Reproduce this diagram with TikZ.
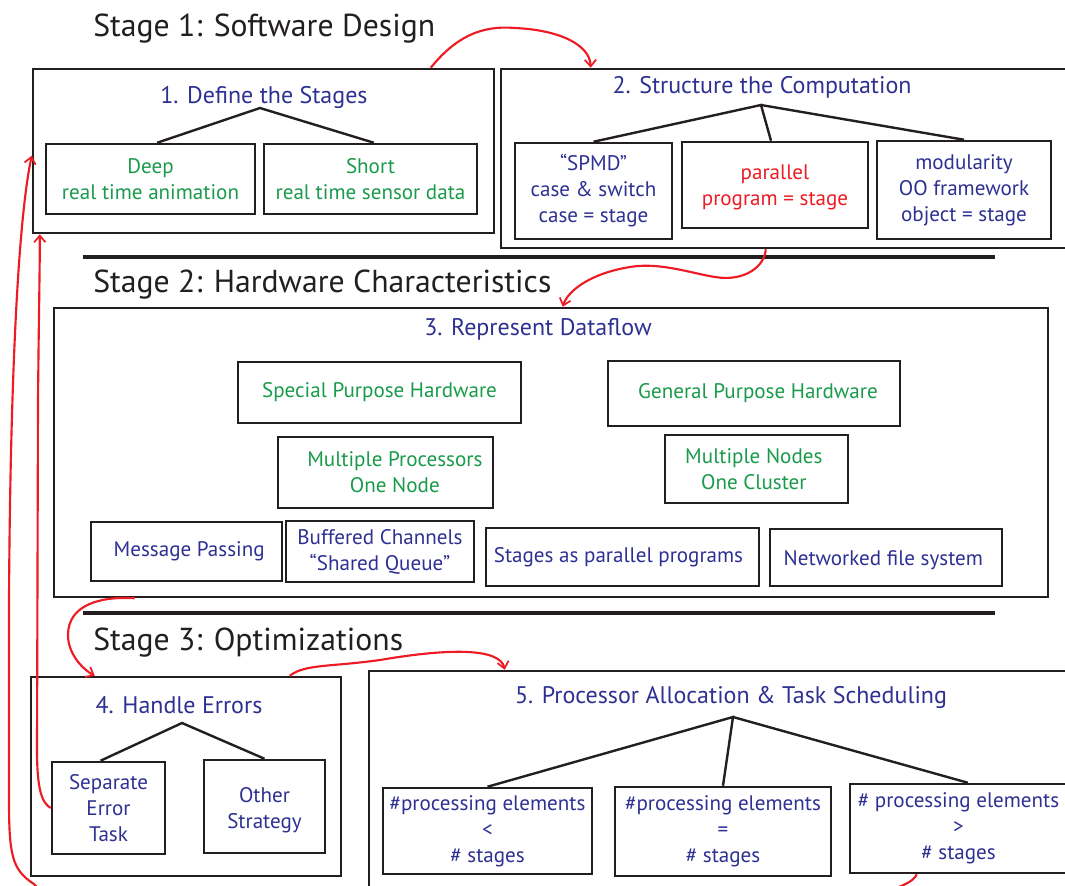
\documentclass[tikz,border=0pt]{standalone}
\usepackage{fontspec}
\setmainfont{PT Sans}
\usetikzlibrary{arrows.meta,fit,calc}

\definecolor{ink}{HTML}{231F20}
\definecolor{blu}{HTML}{2E3192}
\definecolor{grn}{HTML}{1A9B4B}
\definecolor{flowred}{HTML}{ED1C24}

\newcommand\stagefont{\fontsize{23.8}{28}\selectfont}
\newcommand\headfont{\fontsize{18}{22}\selectfont}
\newcommand\itemfont{\fontsize{15.8}{19.5}\selectfont}

\begin{document}
\begin{tikzpicture}[x=0.75pt,y=-0.75pt,
  stagetitle/.style={anchor=base west, inner sep=0pt, font=\stagefont, text=ink},
  head/.style={anchor=base, inner sep=0pt, font=\headfont, text=blu},
  frame/.style={draw=ink, line width=1.9pt, inner sep=0pt},
  sub/.style={draw=ink, line width=1.9pt, inner sep=0pt},
  txt/.style={inner sep=0pt, align=center, font=\itemfont},
  branch/.style={draw=ink, line width=1.8pt, line join=miter},
  rule/.style={draw=ink, line width=3.4pt},
  flow/.style={draw=flowred, line width=1.6pt, -{Straight Barb[length=5pt,width=8.5pt,line width=1.3pt]}}
]
\path[use as bounding box, fill=white] (0,0) rectangle (1065,886);

% ---------- Stage 1 ----------
\node[stagetitle] (st1) at (93,36) {Stage 1: Software Design};

\node[frame, fit={(33,69)(494,233)}] (box1) {};
\node[head] (t1) at (264,103) {1. Define the Stages};
\node[sub, fit={(46,144)(255,214)}] (deep) {};
\node[txt, text=grn] at (deep) {Deep\\real time animation};
\node[sub, fit={(264,144)(477,214)}] (short) {};
\node[txt, text=grn] at (short) {Short\\real time sensor data};
\coordinate (ap1) at (260,108);
\draw[branch] ([xshift=5pt]deep.north) -- (ap1) -- ([xshift=2.5pt]short.north);

\node[frame, fit={(501,69)(1075,248)}] (box2) {};
\node[head] (t2) at (762,93) {2. Structure the Computation};
\node[sub, fit={(515,143)(672,239)}] (spmd) {};
\node[txt, text=blu] at (spmd) {``SPMD''\\case \& switch\\case = stage};
\node[sub, fit={(682,142)(868,228)}] (par) {};
\node[txt, text=flowred] at ([yshift=-2pt]par.center) {parallel\\program = stage};
\node[sub, fit={(877,141)(1051,239)}] (mod) {};
\node[txt, text=blu] at (mod) {modularity\\OO framework\\object = stage};
\coordinate (ap2) at (761,105);
\draw[branch] (spmd.north) -- (ap2) -- ([xshift=-3pt]par.north);
\draw[branch] (ap2) -- (mod.north);

\draw[rule] (83,257) -- (995,257);

% ---------- Stage 2 ----------
\node[stagetitle] (st2) at (93,292) {Stage 2: Hardware Characteristics};

\node[frame, fit={(54,308)(1048,597)}] (box3) {};
\node[head] (t3) at (538,335) {3. Represent Dataflow};
\node[sub, fit={(238,362)(521,423)}] (sph) {};
\node[txt, text=grn] at (sph) {Special Purpose Hardware};
\node[sub, fit={(608,361)(900,426)}] (gph) {};
\node[txt, text=grn] at ([xshift=3pt]gph.center) {General Purpose Hardware};
\node[sub, fit={(278,437)(493,508)}] (mpn) {};
\node[txt, text=grn] at ([xshift=7pt]mpn.center) {Multiple Processors\\One Node};
\node[sub, fit={(665,435)(848,503)}] (mnc) {};
\node[txt, text=grn] at ([xshift=-2pt]mnc.center) {Multiple Nodes\\One Cluster};
\node[sub, fit={(91,522)(282,581)}] (msg) {};
\node[txt, text=blu] at ([xshift=2pt]msg.center) {Message Passing};
\node[sub, fit={(286,521)(474,582)}] (buf) {};
\node[txt, text=blu] at (buf) {Buffered Channels\\``Shared Queue''};
\node[sub, fit={(486,528)(759,586)}] (stg) {};
\node[txt, text=blu] at ([xshift=-3pt]stg.center) {Stages as parallel programs};
\node[sub, fit={(770,529)(1002,586)}] (nfs) {};
\node[txt, text=blu] at ([xshift=-2pt,yshift=-2pt]nfs.center) {Networked file system};

\draw[rule] (83,613) -- (995,613);

% ---------- Stage 3 ----------
\node[stagetitle] (st3) at (93,650) {Stage 3: Optimizations};

\node[frame, fit={(31,677)(341,876)}] (box4) {};
\node[head] (t4) at (179,713) {4. Handle Errors};
\node[sub, fit={(52,762)(165,854)}] (sep) {};
\node[txt, text=blu] at (sep) {Separate\\Error\\Task};
\node[sub, fit={(204,760)(325,853)}] (oth) {};
\node[txt, text=blu] at ([yshift=-3pt]oth.center) {Other\\Strategy};
\coordinate (ap4) at (182,723);
\draw[branch] ([xshift=-6pt]sep.north) -- (ap4) -- (oth.north);

\node[frame, fit={(369,671)(1075,900)}] (box5) {};
\node[head] (t5) at (731,703) {5. Processor Allocation \& Task Scheduling};
\node[sub, fit={(383,788)(592,874)}] (lt) {};
\node[txt, text=blu] at (lt) {\#processing elements\\{<}\\\# stages};
\node[sub, fit={(615,787)(831,876)}] (eq) {};
\node[txt, text=blu] at (eq) {\#processing elements\\=\\\# stages};
\node[sub, fit={(850,784)(1067,873)}] (gt) {};
\node[txt, text=blu] at (gt) {\# processing elements\\{>}\\\# stages};
\coordinate (ap5) at (733,717);
\draw[branch] (lt.north) -- (ap5) -- (eq.north);
\draw[branch] (ap5) -- ([xshift=7pt]gt.north);

% ---------- red flow between the steps ----------
\draw[flow] ($(box1.north west)+(399,0)$) .. controls (455,38) and (480,25) .. (515,28)
  .. controls (560,30) and (590,45) .. ($(box2.north west)+(91,0)$);
\draw[flow] ($(box2.south west)+(266,0)$) .. controls (765,266) and (745,282) .. (715,277)
  .. controls (690,273) and (660,262) .. (630,267)
  .. controls (592,273) and (568,290) .. ($(box3.north west)+(510,0)$);
\draw[flow] ($(box3.south west)+(82,0)$) .. controls (100,596) and (68,605) .. (68,635)
  .. controls (68,655) and (84,670) .. ($(box4.north west)+(65,0)$);
\draw[flow] ($(box4.north west)+(260,0)$) .. controls (305,664) and (330,667) .. (380,660)
  .. controls (450,648) and (500,648) .. ($(box5.north west)+(137,0)$);
\draw[flow] (sep.west) .. controls (42,803) and (37,790) .. (37,750)
  -- (38,400) .. controls (39,300) and (40,260) .. ($(box1.south west)+(8,0)$);
\draw[flow] ($(gt.south west)+(68,0)$) .. controls (895,935) and (70,935) .. (34,884)
  .. controls (12,870) and (9,855) .. (9,800)
  -- (9,600) .. controls (10,420) and (16,230) .. ($(box1.north west)+(0,88)$);
\end{tikzpicture}
\end{document}
